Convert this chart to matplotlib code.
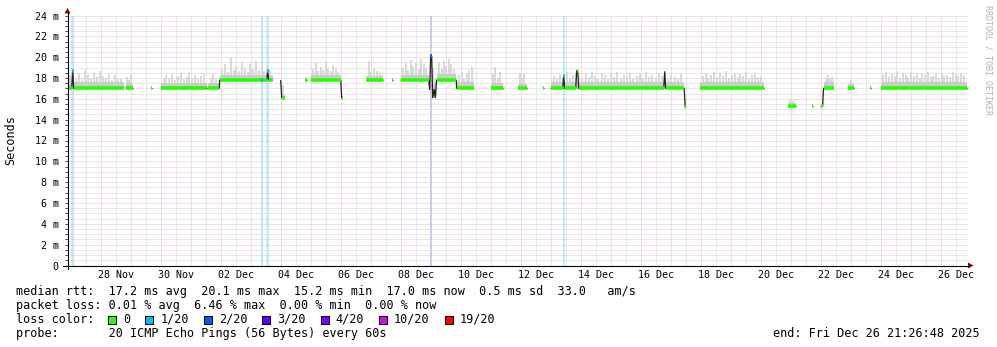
import matplotlib

matplotlib.use("Agg")
import matplotlib.dates as mdates
import matplotlib.pyplot as plt
import numpy as np
import pandas as pd
from matplotlib.collections import LineCollection
from matplotlib.lines import Line2D
from matplotlib.patches import Polygon, Rectangle

W, H = 997, 347
YEAR = 2025
START = "11-26 21:26:48"
END = "12-26 21:26:48"

# median rtt in ms, one list per stretch without gaps
median_runs = [
    [("11-26 21:27", 17.0), ("11-27 00:48", 17.0), ("11-27 01:36", 18.7), ("11-27 02:24", 17.0), ("11-28 18:24", 17.0)],
    [("11-28 20:00", 17.0), ("11-29 01:36", 17.0)],
    [("11-29 16:24", 17.0), ("11-29 17:12", 17.0)],
    [("11-30 00:00", 17.0), ("12-01 12:48", 17.0)],
    [("12-01 13:36", 17.0), ("12-01 22:48", 17.0), ("12-01 23:12", 17.8), ("12-03 12:48", 17.8),
     ("12-03 13:36", 18.7), ("12-03 14:24", 17.8), ("12-03 17:36", 17.8)],
    [("12-04 00:00", 17.8), ("12-04 00:48", 16.1), ("12-04 03:12", 16.1)],
    [("12-04 19:12", 17.8), ("12-04 20:48", 17.8)],
    [("12-05 00:00", 17.8), ("12-06 00:00", 17.8), ("12-06 00:48", 16.1), ("12-06 01:36", 16.1)],
    [("12-06 20:00", 17.8), ("12-07 09:36", 17.8)],
    [("12-07 17:12", 17.8), ("12-07 18:00", 17.8)],
    [("12-08 00:00", 17.8), ("12-08 22:24", 17.8), ("12-08 23:12", 16.9), ("12-09 00:00", 20.1),
     ("12-09 00:48", 20.1), ("12-09 01:36", 16.1), ("12-09 02:48", 16.9), ("12-09 03:36", 16.1),
     ("12-09 04:48", 17.8), ("12-09 20:24", 17.8), ("12-09 20:48", 17.0), ("12-10 10:48", 17.0)],
    [("12-11 00:00", 17.0), ("12-11 09:36", 17.0)],
    [("12-11 21:36", 17.0), ("12-12 04:48", 17.0)],
    [("12-12 18:00", 17.0), ("12-12 18:48", 17.0)],
    [("12-13 00:00", 17.0), ("12-13 09:36", 17.0), ("12-13 10:24", 18.2), ("12-13 11:12", 17.0),
     ("12-13 20:00", 17.0), ("12-13 20:48", 18.7), ("12-13 21:36", 18.7), ("12-13 22:24", 17.0),
     ("12-16 18:24", 17.0), ("12-16 19:12", 18.6), ("12-16 20:00", 17.0), ("12-17 10:48", 17.0),
     ("12-17 11:36", 15.2), ("12-17 12:24", 15.2)],
    [("12-17 23:12", 17.0), ("12-20 02:24", 17.0)],
    [("12-20 21:36", 15.3), ("12-21 04:00", 15.3)],
    [("12-21 16:48", 15.3), ("12-21 18:00", 15.3)],
    [("12-22 00:00", 15.3), ("12-22 01:36", 15.3), ("12-22 02:00", 16.5), ("12-22 02:24", 17.0), ("12-22 10:24", 17.0)],
    [("12-22 21:36", 17.0), ("12-23 02:24", 17.0)],
    [("12-23 15:36", 17.0), ("12-23 16:24", 17.0)],
    [("12-24 00:00", 17.0), ("12-26 20:48", 17.0)],
]

# smoke: start, end, lowest ping, top of dense part, tops of the ping spread (evenly over the span)
smoke_spans = [
    ("11-26 21:27", "11-28 18:24", 16.9, 17.6,
     [18.2, 18.6, 17.9, 18.4, 18.0, 18.8, 18.3, 17.9, 18.5, 18.1, 18.7, 18.2, 18.0, 18.4, 17.8, 18.3, 18.0, 17.9]),
    ("11-28 20:00", "11-29 01:36", 16.9, 17.5, [18.1, 17.8, 18.3]),
    ("11-30 00:00", "12-01 12:48", 16.9, 17.5,
     [17.9, 18.3, 18.0, 18.4, 17.8, 18.2, 18.5, 17.9, 18.1, 18.6, 18.0, 18.3, 17.9, 18.2, 18.4]),
    ("12-01 13:36", "12-01 22:48", 16.9, 17.5, [18.0, 18.4, 17.9]),
    ("12-01 23:12", "12-03 17:36", 17.7, 18.3,
     [18.9, 19.3, 18.6, 19.9, 18.8, 19.2, 18.7, 19.5, 19.0, 18.6, 19.3, 18.9, 19.6, 18.8, 19.1, 18.7, 19.0, 18.8]),
    ("12-04 00:48", "12-04 03:12", 16.0, 16.4, [17.3]),
    ("12-05 00:00", "12-06 00:00", 17.7, 18.3, [18.9, 19.4, 18.7, 19.1, 18.8, 19.5, 19.0, 18.7, 19.2, 18.9, 18.6]),
    ("12-06 20:00", "12-07 09:36", 17.7, 18.2, [19.6, 18.6, 18.9, 18.7, 18.5]),
    ("12-08 00:00", "12-08 22:24", 17.7, 18.3, [19.0, 19.5, 18.8, 19.7, 19.2, 19.4, 18.9, 19.8, 19.3, 19.0]),
    ("12-08 23:12", "12-09 04:48", 16.2, 17.4, [20.9, 19.0, 18.0]),
    ("12-09 04:48", "12-09 20:24", 17.7, 18.4, [19.5, 18.9, 19.6, 19.2, 19.8, 19.3, 18.9]),
    ("12-09 20:48", "12-10 10:48", 16.9, 17.6, [18.3, 18.6, 17.9, 18.5, 18.8, 19.1]),
    ("12-11 00:00", "12-11 09:36", 16.9, 17.5, [18.4, 19.1, 18.0, 18.6]),
    ("12-11 21:36", "12-12 04:48", 16.9, 17.4, [18.5, 17.9, 18.4]),
    ("12-13 00:00", "12-17 10:48", 16.9, 17.6,
     [18.2, 18.0, 18.4, 18.1, 18.6, 18.0, 18.3, 18.5, 18.2, 17.9, 18.4, 18.1, 18.6, 18.2, 18.0, 18.5, 18.3,
      17.9, 18.4, 18.1, 18.6, 18.0, 18.3, 18.2, 18.5, 17.9, 18.2, 18.4, 18.0, 18.6, 18.1, 18.3, 18.0, 18.4,
      18.2, 18.5, 17.9, 18.3, 18.1, 18.0, 18.4]),
    ("12-17 23:12", "12-20 02:24", 16.9, 17.6,
     [18.2, 18.5, 18.0, 18.3, 18.6, 18.1, 18.4, 18.2, 18.7, 18.0, 18.3, 18.5, 18.1, 18.4, 18.2, 18.6, 18.0,
      18.3, 18.5, 18.1, 18.2]),
    ("12-20 21:36", "12-21 04:00", 15.2, 15.6, [16.0, 15.8]),
    ("12-22 02:24", "12-22 10:24", 16.9, 17.6, [17.9, 18.3, 18.0, 18.1]),
    ("12-22 21:36", "12-23 02:24", 16.9, 17.4, [17.8]),
    ("12-24 00:00", "12-26 20:48", 16.9, 17.6,
     [18.3, 18.6, 18.1, 18.4, 18.2, 18.7, 18.0, 18.5, 18.3, 18.1, 18.6, 18.2, 18.4, 18.0, 18.5, 18.3, 18.6,
      18.1, 18.2, 18.4, 18.0, 18.5, 18.2, 18.3, 18.1, 18.6, 18.4, 18.2, 18.5, 18.3]),
]

# loss events: time, loss level index, median at that time
loss_events = [
    ("11-27 01:36", 1, 18.7),
    ("12-03 08:48", 1, 17.8),
    ("12-03 13:36", 1, 18.7),
    ("12-09 00:00", 2, 20.1),
    ("12-13 10:24", 1, 18.2),
]

loss_labels = ["0", "1/20", "2/20", "3/20", "4/20", "10/20", "19/20"]
loss_colors = ["#26ff00", "#00b8ff", "#0059ff", "#5e00ff", "#7e00ff", "#dd00ff", "#ff0000"]

label_days = ["11-28", "11-30", "12-02", "12-04", "12-06", "12-08", "12-10", "12-12",
              "12-14", "12-16", "12-18", "12-20", "12-22", "12-24", "12-26"]

stats_lines = [
    "median rtt:  17.2 ms avg  20.1 ms max  15.2 ms min  17.0 ms now  0.5 ms sd  33.0   am/s",
    "packet loss: 0.01 % avg  6.46 % max  0.00 % min  0.00 % now",
]
probe_line = "probe:       20 ICMP Echo Pings (56 Bytes) every 60s"
end_line = "end: Fri Dec 26 21:26:48 2025"

MONO = "DejaVu Sans Mono"
GREY_GRID = "#d2d2d2"
RED_GRID = "#efbcbc"
ARROW = "#990000"


def t(s):
    return mdates.date2num(pd.Timestamp(f"{YEAR}-{s}"))


def fx(px):
    return px / W


def fy(py):
    return 1 - py / H


fig = plt.figure(figsize=(W / 100, H / 100), dpi=100)
fig.patch.set_facecolor("white")
ax = fig.add_axes([fx(67.5), fy(265.5), 900 / W, 250 / H])
ax.set_facecolor("white")
ax.set_xlim(t(START), t(END))
ax.set_ylim(0, 24)
for spine in ax.spines.values():
    spine.set_visible(False)

# grid, rrdtool style dotted
dots = (0, (1, 1))
for v in np.arange(0.5, 24.01, 0.5):
    ax.axhline(v, color=RED_GRID if v % 2 == 0 else GREY_GRID, lw=0.72, ls=dots, zorder=1)
for ts in pd.date_range(f"{YEAR}-11-27", f"{YEAR}-12-26 12:00", freq="12h"):
    ax.axvline(mdates.date2num(ts), color=RED_GRID if ts.hour == 0 else GREY_GRID, lw=0.72, ls=dots, zorder=1)

# loss background stripes
for when, lvl, _ in loss_events:
    ax.axvline(t(when), color=loss_colors[lvl], alpha=0.3, lw=1.3, zorder=0.5)

# smoke
for start, end, low, dense, tops in smoke_spans:
    t0, t1 = t(start), t(end)
    ax.fill_between([t0, t1], low, dense, color="#cccccc", lw=0, zorder=2)
    xs = np.linspace(t0, t1, len(tops) + 2)[1:-1]
    ax.vlines(xs, low, tops, color="#d6d6d6", lw=1.3, zorder=1.8)

# median line and loss coloured band
band = []
for run in median_runs:
    xs = [t(a) for a, _ in run]
    ys = [b for _, b in run]
    ax.plot(xs, ys, color="#202020", lw=0.9, zorder=3, solid_capstyle="butt")
    for i in range(len(run) - 1):
        if ys[i] == ys[i + 1]:
            band.append([(xs[i], ys[i]), (xs[i + 1], ys[i + 1])])
ax.add_collection(LineCollection(band, colors=loss_colors[0], linewidths=2.6, capstyle="butt", zorder=4))

px_day = 1 / 30.0
for when, lvl, val in loss_events:
    x0 = t(when)
    ax.plot([x0 - px_day, x0 + px_day], [val, val], color=loss_colors[lvl], lw=2.6,
            solid_capstyle="butt", zorder=5)

# ticks
yt = list(range(0, 25, 2))
ax.set_yticks(yt)
ax.set_yticklabels(["0" if v == 0 else f"{v} m" for v in yt], fontfamily=MONO, fontsize=7.2)
ax.set_yticks(np.arange(0, 24.01, 0.5), minor=True)
ax.tick_params(axis="y", which="both", direction="out", length=2, width=0.7, color="#404040", pad=4.4)
ax.set_xticks([t(d + " 12:00") for d in label_days])
ax.set_xticklabels([pd.Timestamp(f"{YEAR}-{d}").strftime("%d %b") for d in label_days],
                   fontfamily=MONO, fontsize=7.2)
ax.tick_params(axis="x", which="both", length=0, pad=3.4)

# axes with arrows
fig.add_artist(Line2D([fx(63), fx(969)], [fy(265.5), fy(265.5)], color="black", lw=0.8))
fig.add_artist(Line2D([fx(67.5), fx(67.5)], [fy(269), fy(12)], color="black", lw=0.8))
fig.add_artist(Polygon([(fx(968), fy(262.5)), (fx(973.5), fy(265.5)), (fx(968), fy(268.5))],
                       closed=True, color=ARROW, lw=0))
fig.add_artist(Polygon([(fx(64.5), fy(13.5)), (fx(67.5), fy(8)), (fx(70.5), fy(13.5))],
                       closed=True, color=ARROW, lw=0))

# labels
fig.text(fx(11), fy(140), "Seconds", rotation=90, ha="center", va="center", fontfamily=MONO, fontsize=8.5)
fig.text(fx(988), fy(60), "RRDTOOL / TOBI OETIKER", rotation=270, ha="center", va="center",
         fontfamily=MONO, fontsize=6, color="#b0b0b0")

# legend block
cw = 7.1
x_left = 16
baselines = [295, 309, 323, 337]
for line, base in zip(stats_lines, baselines[:2]):
    fig.text(fx(x_left), fy(base), line, ha="left", va="baseline", fontfamily=MONO, fontsize=8.5)
fig.text(fx(x_left), fy(baselines[2]), "loss color:", ha="left", va="baseline", fontfamily=MONO, fontsize=8.5)
bx = x_left + 13 * cw
for lab, col in zip(loss_labels, loss_colors):
    fig.add_artist(Rectangle((fx(bx), fy(baselines[2] + 0.5)), 8 / W, 8 / H, facecolor=col,
                             edgecolor="black", lw=0.7, transform=fig.transFigure))
    fig.text(fx(bx + 15), fy(baselines[2]), lab, ha="left", va="baseline", fontfamily=MONO, fontsize=8.5)
    bx = bx + 15 + len(lab) * cw + 15
fig.text(fx(x_left), fy(baselines[3]), probe_line, ha="left", va="baseline", fontfamily=MONO, fontsize=8.5)
fig.text(fx(980), fy(baselines[3]), end_line, ha="right", va="baseline", fontfamily=MONO, fontsize=8.5)

fig.savefig("out.png", dpi=100, facecolor="white")
